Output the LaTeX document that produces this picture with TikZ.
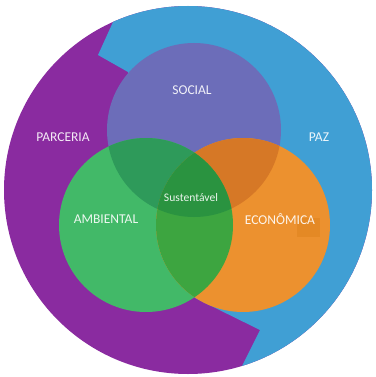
\documentclass[tikz,border=0pt]{standalone}
\usepackage{fontspec}
\setmainfont{Carlito}
\definecolor{cpurple}{HTML}{8A2BA0}
\definecolor{cblue}{HTML}{409FD4}
\definecolor{csocial}{HTML}{6C6DB9}
\definecolor{cgreen}{HTML}{42B968}
\definecolor{corange}{HTML}{EC912F}
\definecolor{csa}{HTML}{2E9A5A}
\definecolor{cse}{HTML}{D67826}
\definecolor{cae}{HTML}{3DA540}
\definecolor{ccenter}{HTML}{2A9340}
\definecolor{cbox}{HTML}{E48925}
\tikzset{
  lbl/.style={text=white, text opacity=0.9, font=\fontsize{13.5}{15}\selectfont, inner sep=0pt},
  lblsmall/.style={text=white, text opacity=0.9, font=\fontsize{11.6}{13}\selectfont, inner sep=0pt}
}
\begin{document}
\begin{tikzpicture}[x=1pt,y=-1pt]
\useasboundingbox (0,0) rectangle (375,377);
\fill[white] (0,0) rectangle (375,377);
% outer ring
\fill[cpurple] (188,190) circle (184);
\begin{scope}
  \clip (188,190) circle (184);
  \fill[cblue] (123,0) -- (98,55) -- (128,72) -- (160,180) -- (195,298) -- (260,330) -- (232,386) -- (400,400) -- (400,0) -- cycle;
\end{scope}
% venn circles
\def\soc{(194,130) circle (87)}
\def\amb{(146,225) circle (87)}
\def\eco{(243,225) circle (87)}
\fill[csocial] \soc;
\fill[cgreen] \amb;
\fill[corange] \eco;
\fill[cbox] (297,218) rectangle (320,237);
\begin{scope}
  \clip \soc;
  \fill[csa] \amb;
  \fill[cse] \eco;
\end{scope}
\begin{scope}
  \clip \amb;
  \fill[cae] \eco;
  \clip \eco;
  \fill[ccenter] \soc;
\end{scope}
% labels
\node[lbl] (social) at (192,90) {SOCIAL};
\node[lbl] (parceria) at (63,137) {PARCERIA};
\node[lbl] (paz) at (319,137) {PAZ};
\node[lbl] (ambiental) at (106,219) {AMBIENTAL};
\node[lbl] (economica) at (280,219) {ECONÔMICA};
\node[lblsmall] (sust) at (191,198) {Sustentável};
\end{tikzpicture}
\end{document}
